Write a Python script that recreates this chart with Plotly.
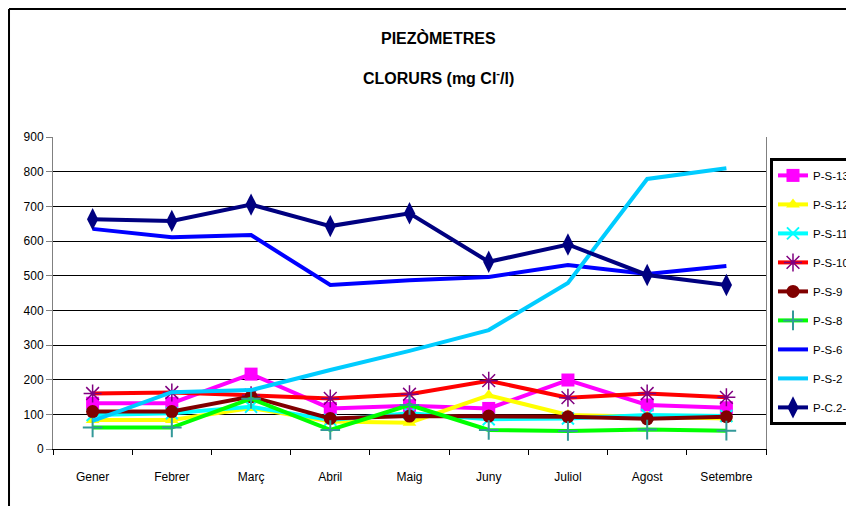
import plotly.graph_objects as go

mesos = ['Gener', 'Febrer', 'Març', 'Abril', 'Maig', 'Juny', 'Juliol', 'Agost', 'Setembre']

ps13 = [132, 132, 216, 117, 125, 117, 199, 127, 119]
ps12 = [84, 84, 118, 79, 76, 155, 98, 93, 88]
ps11 = [98, 103, 122, 84, 103, 86, 88, 98, 95]
ps10 = [160, 163, 155, 146, 158, 197, 148, 160, 149]
ps9 = [108, 108, 151, 88, 95, 95, 93, 87, 93]
ps8 = [62, 62, 145, 55, 127, 55, 52, 56, 53]
ps6 = [635, 611, 617, 473, 487, 496, 531, 505, 528]
ps2 = [81, 164, 170, 228, 283, 343, 479, 779, 810]
pc22 = [663, 658, 705, 643, 680, 540, 590, 502, 473]

series = [
    ('P-S-13', ps13, '#FF00FF', dict(symbol='square', size=13, color='#FF00FF')),
    ('P-S-12', ps12, '#FFFF00', dict(symbol='triangle-up', size=12, color='#FFFF00')),
    ('P-S-11', ps11, '#00FFFF', dict(symbol='x-thin', size=12, line=dict(color='#00FFFF', width=2))),
    ('P-S-10', ps10, '#FF0000', dict(symbol='asterisk', size=15, line=dict(color='#800080', width=1.5))),
    ('P-S-9', ps9, '#800000', dict(symbol='circle', size=13, color='#800000')),
    ('P-S-8', ps8, '#00FF00', dict(symbol='cross-thin', size=14, line=dict(color='#339999', width=2))),
    ('P-S-6', ps6, '#0000FF', None),
    ('P-S-2', ps2, '#00CCFF', None),
    ('P-C.2-2', pc22, '#000080', dict(symbol='diamond-tall', size=16, color='#000080')),
]

fig = go.Figure()
for nom, vals, col, mk in series:
    fig.add_trace(go.Scatter(
        x=mesos, y=vals, name=nom, legendgroup=nom,
        mode='lines+markers' if mk else 'lines',
        line=dict(color=col, width=4),
        marker=mk if mk else None,
    ))

# la pàgina té 8px de marge al body
fig.update_layout(
    width=846, height=498,
    margin=dict(l=45, r=88, t=129, b=57, autoexpand=False),
    paper_bgcolor='white', plot_bgcolor='white',
    font=dict(family='Liberation Sans, Arial', size=12, color='black'),
    showlegend=True,
    legend=dict(
        x=1.0056, y=0.933, xanchor='left', yanchor='top',
        bordercolor='black', borderwidth=3,
        tracegroupgap=10, font=dict(size=11.5),
        itemwidth=30,
    ),
    annotations=[
        dict(text='<b>PIEZÒMETRES</b>', xref='paper', yref='paper',
             x=0.54, y=1.317, yanchor='middle', showarrow=False, font=dict(size=16)),
        dict(text='<b>CLORURS (mg Cl<sup>-</sup>/l)</b>', xref='paper', yref='paper',
             x=0.54, y=1.192, yanchor='middle', showarrow=False, font=dict(size=16)),
    ],
    shapes=[
        dict(type='line', xref='paper', yref='paper', x0=-0.0617, x1=-0.0617,
             y0=-0.2, y1=1.41, line=dict(color='black', width=2)),
        dict(type='line', xref='paper', yref='paper', x0=-0.0617, x1=1.2,
             y0=1.41, y1=1.41, line=dict(color='black', width=2)),
    ],
)

fig.update_xaxes(
    type='category', range=[-0.5, 8.5], showline=True, linecolor='black', linewidth=1,
    ticks='outside', tickson='boundaries', ticklen=5, tickcolor='black',
    ticklabelstandoff=17, showgrid=False,
)
fig.update_yaxes(
    range=[0, 900], dtick=100, showline=True, linecolor='#808080', mirror=True,
    ticks='outside', ticklen=6, tickcolor='#808080',
    showgrid=True, gridcolor='black', gridwidth=1, zeroline=False,
)

fig.write_html("out.html")
